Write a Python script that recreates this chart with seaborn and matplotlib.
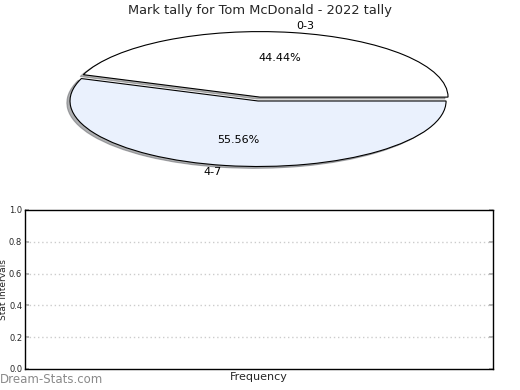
import matplotlib
matplotlib.use("Agg")
import matplotlib.pyplot as plt
import seaborn as sns

# chart data
labels = ["0-3", "4-7"]
shares = [44.44, 55.56]
slice_colors = ["#ffffff", "#eaf1fd"]
explode = [0, 0.06]
yticks = [0.0, 0.2, 0.4, 0.6, 0.8, 1.0]

sns.set_theme(style="white")
plt.rcParams['font.family'] = ['DejaVu Sans']

fig = plt.figure(figsize=(5.2, 3.9), dpi=100)

# pie at the top, squashed into an ellipse
ax_pie = fig.add_axes([0.048, 0.541, 0.904, 0.42])
wedges, texts, autotexts = ax_pie.pie(
    shares, labels=labels, colors=slice_colors, explode=explode,
    startangle=0, counterclock=True,
    shadow=dict(ox=-0.012, oy=-0.02, shade=0.6),
    autopct='%.2f%%',
    wedgeprops=dict(edgecolor='black', linewidth=0.8),
    textprops=dict(fontsize=8, color='black'))
ax_pie.set_aspect('auto')
ax_pie.set_xlim(-1.25, 1.25)
ax_pie.set_ylim(-1.25, 1.25)

fig.text(0.5, 0.974, "Mark tally for Tom McDonald - 2022 tally",
         ha='center', va='center', fontsize=9.4)

# empty stats panel below
ax = fig.add_axes([0.048, 0.054, 0.9, 0.4077])
ax.set_ylim(0, 1)
ax.set_xlim(0, 1)
ax.set_yticks(yticks)
ax.set_yticklabels(["%.1f" % v for v in yticks], fontsize=6)
ax.set_xticks([])
for v in yticks[1:-1]:
    ax.axhline(v, color='#cccccc', linestyle=(0, (1, 2)), linewidth=1)
for s in ax.spines.values():
    s.set_color('black')
    s.set_linewidth(1)
ax.tick_params(axis='y', direction='in', length=3, color='#aaaaaa',
               left=True, right=True, pad=2)
ax.set_ylabel("Stat Intervals", fontsize=6.5)
ax.yaxis.set_label_coords(-0.037, 0.5)
ax.set_xlabel("Frequency", fontsize=8, labelpad=2)

fig.text(0.0, 0.026, "Dream-Stats.com", ha='left', va='center',
         fontsize=8.5, color='#8a8a8a')

fig.savefig("out.png", dpi=100)
